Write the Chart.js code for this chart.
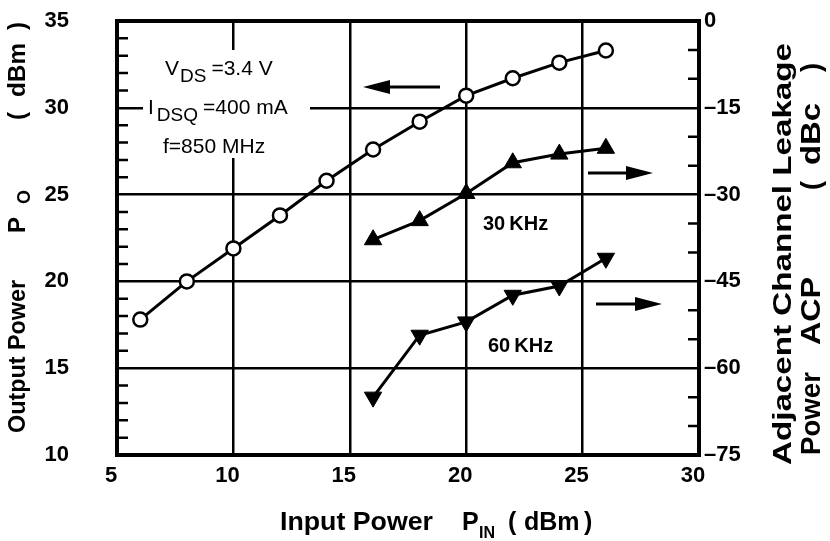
<!DOCTYPE html>
<html>
<head>
<title>Pout / ACP vs Pin</title>
<script src="https://cdn.jsdelivr.net/npm/chart.js@4.4.0/dist/chart.umd.min.js"></script>
<style>
  body { margin: 0; background: #fff; }
  #wrap { width: 830px; height: 541px; }
</style>
</head>
<body>
<div id="wrap"><canvas id="myChart"></canvas></div>

<script>
// input power, dBm
var pin = [6, 8, 10, 12, 14, 16, 18, 20, 22, 24, 26];
// output power, dBm
var pout = [17.8, 20.0, 21.9, 23.8, 25.8, 27.6, 29.2, 30.7, 31.7, 32.6, 33.3];
// ACP points only from 16 dBm
var pinAcp = [16, 18, 20, 22, 24, 26];
var acp30 = [-37.8, -34.5, -29.8, -24.5, -23.0, -22.0];
var acp60 = [-65.0, -54.3, -52.0, -47.4, -45.8, -41.0];

var xRange = [5, 30];
var poutRange = [10, 35];
var acpRange = [-75, 0];

var FONT = '"Liberation Sans", Arial, sans-serif';

function pts(xs, ys) {
  return xs.map(function (x, i) { return { x: x, y: ys[i] }; });
}

function put(ctx, s, x, y, size, bold, len) {
  ctx.font = (bold ? 'bold ' : '') + size + 'px ' + FONT;
  var w = ctx.measureText(s).width;
  if (len) {
    ctx.save();
    ctx.translate(x, y);
    ctx.scale(len / w, 1);
    ctx.fillText(s, 0, 0);
    ctx.restore();
    return x + len;
  }
  ctx.fillText(s, x, y);
  return x + w;
}

// text rotated to read bottom-to-top, x = baseline, y = start
function putUp(ctx, s, x, y, size, bold, len) {
  ctx.save();
  ctx.translate(x, y);
  ctx.rotate(-Math.PI / 2);
  ctx.font = (bold ? 'bold ' : '') + size + 'px ' + FONT;
  var w = ctx.measureText(s).width;
  if (len) ctx.scale(len / w, 1);
  ctx.fillText(s, 0, 0);
  ctx.restore();
}

function arrow(ctx, x1, x2, y) {
  var dir = x2 > x1 ? 1 : -1;
  var head = 27;
  ctx.lineWidth = 3;
  ctx.beginPath();
  ctx.moveTo(x1, y);
  ctx.lineTo(x2 - dir * head + dir * 2, y);
  ctx.stroke();
  ctx.beginPath();
  ctx.moveTo(x2, y);
  ctx.lineTo(x2 - dir * head, y - 7);
  ctx.lineTo(x2 - dir * head, y + 7);
  ctx.closePath();
  ctx.fill();
}

function noPad(s) {
  s.paddingTop = 0; s.paddingBottom = 0;
  s.paddingLeft = 0; s.paddingRight = 0;
}

var extras = {
  id: 'extras',
  beforeDatasetsDraw: function (chart) {
    var ctx = chart.ctx;
    ctx.save();
    // white box behind the bias conditions
    ctx.fillStyle = '#fff';
    ctx.fillRect(143, 50, 167, 108);
    ctx.fillStyle = '#000';
    ctx.textAlign = 'left';
    ctx.textBaseline = 'alphabetic';
    var x = put(ctx, 'V', 165, 75, 21, false);
    x = put(ctx, 'DS', x + 1, 82, 19, false);
    put(ctx, '=3.4 V', x + 5, 75, 21, false);
    x = put(ctx, 'I', 148, 114, 21, false);
    x = put(ctx, 'DSQ', x + 3, 121, 19, false);
    put(ctx, '=400 mA', x + 5, 114, 21, false);
    put(ctx, 'f=850 MHz', 163, 153, 21, false);

    put(ctx, '30\u2009KHz', 483, 230, 20, true);
    put(ctx, '60\u2009KHz', 488, 352, 20, true);
    ctx.restore();
  },
  afterDraw: function (chart) {
    var ctx = chart.ctx, a = chart.chartArea;
    var y = chart.scales.y, y2 = chart.scales.y2;
    ctx.save();
    ctx.strokeStyle = '#000';
    ctx.fillStyle = '#000';

    // minor ticks, inside the frame
    ctx.lineWidth = 2.5;
    ctx.beginPath();
    for (var v = poutRange[0]; v <= poutRange[1]; v++) {
      if (v % 5 === 0) continue;
      var py = y.getPixelForValue(v);
      ctx.moveTo(a.left, py);
      ctx.lineTo(a.left + 11, py);
    }
    for (var w = acpRange[0]; w <= acpRange[1]; w += 5) {
      if (w % 15 === 0) continue;
      var qy = y2.getPixelForValue(w);
      ctx.moveTo(a.right, qy);
      ctx.lineTo(a.right - 11, qy);
    }
    ctx.stroke();

    // frame
    ctx.lineWidth = 4;
    ctx.strokeRect(a.left, a.top, a.right - a.left, a.bottom - a.top);

    // arrows pointing at the axis each curve belongs to
    arrow(ctx, 440, 363, 87);
    arrow(ctx, 588, 653, 173);
    arrow(ctx, 596, 662, 304);

    // axis titles
    ctx.textAlign = 'left';
    ctx.textBaseline = 'alphabetic';
    putUp(ctx, 'Output Power', 25, 433, 24, true, 153);
    putUp(ctx, 'P', 25, 233, 24, true);
    putUp(ctx, 'O', 30, 204, 18, true);
    putUp(ctx, '(', 25, 120, 24, true);
    putUp(ctx, 'dBm', 25, 97, 24, true, 54);
    putUp(ctx, ')', 25, 30, 24, true);

    putUp(ctx, 'Adjacent Channel Leakage', 791, 465, 26, true, 422);
    putUp(ctx, 'Power', 820, 455, 27, true, 83);
    putUp(ctx, 'ACP', 820, 345, 27, true, 68);
    putUp(ctx, '(', 820, 190, 27, true);
    putUp(ctx, 'dBc', 820, 165, 27, true, 62);
    putUp(ctx, ')', 820, 72, 27, true);

    put(ctx, 'Input Power', 280, 530, 25, true, 153);
    put(ctx, 'P', 462, 530, 25, true);
    put(ctx, 'IN', 479, 538, 16, true);
    put(ctx, '(', 508, 530, 25, true);
    put(ctx, 'dBm', 524, 530, 25, true);
    put(ctx, ')', 584, 530, 25, true);
    ctx.restore();
  }
};

var ctx = document.getElementById('myChart').getContext('2d');
var myChart = new Chart(ctx, {
  type: 'line',
  data: {
    datasets: [{
      label: 'Pout',
      data: pts(pin, pout),
      yAxisID: 'y',
      borderColor: '#000',
      borderWidth: 3,
      pointStyle: 'circle',
      pointRadius: 7,
      pointBorderWidth: 2.5,
      pointBackgroundColor: '#fff',
      pointBorderColor: '#000'
    }, {
      label: 'ACP 30 KHz',
      data: pts(pinAcp, acp30),
      yAxisID: 'y2',
      borderColor: '#000',
      borderWidth: 3,
      pointStyle: 'triangle',
      pointRadius: 10,
      pointBorderWidth: 1,
      pointBackgroundColor: '#000',
      pointBorderColor: '#000'
    }, {
      label: 'ACP 60 KHz',
      data: pts(pinAcp, acp60),
      yAxisID: 'y2',
      borderColor: '#000',
      borderWidth: 3,
      pointStyle: 'triangle',
      rotation: 180,
      pointRadius: 10,
      pointBorderWidth: 1,
      pointBackgroundColor: '#000',
      pointBorderColor: '#000'
    }]
  },
  options: {
    responsive: true,
    maintainAspectRatio: false,
    animation: false,
    devicePixelRatio: 1,
    layout: { padding: { top: 21, left: 0, right: 0, bottom: 0 } },
    plugins: { legend: { display: false }, tooltip: { enabled: false } },
    scales: {
      x: {
        type: 'linear',
        min: xRange[0],
        max: xRange[1],
        afterFit: function (s) { s.height = 86; noPad(s); },
        ticks: {
          stepSize: 5,
          padding: 8,
          labelOffset: -6,
          color: '#000',
          font: { family: FONT, size: 22, weight: 'bold' }
        },
        grid: { color: '#000', lineWidth: 2.5, drawTicks: false },
        border: { display: false }
      },
      y: {
        position: 'left',
        min: poutRange[0],
        max: poutRange[1],
        afterFit: function (s) { s.width = 117; noPad(s); },
        ticks: {
          stepSize: 5,
          padding: 48,
          color: '#000',
          font: { family: FONT, size: 22, weight: 'bold' }
        },
        grid: { color: '#000', lineWidth: 2.5, drawTicks: false },
        border: { display: false }
      },
      y2: {
        position: 'right',
        min: acpRange[0],
        max: acpRange[1],
        afterFit: function (s) { s.width = 131; noPad(s); },
        ticks: {
          stepSize: 15,
          padding: 5,
          color: '#000',
          font: { family: FONT, size: 22, weight: 'bold' },
          callback: function (v) { return v === 0 ? '0' : '\u2013' + Math.abs(v); }
        },
        grid: { display: false, drawTicks: false },
        border: { display: false }
      }
    }
  },
  plugins: [extras]
});
</script>
</body>
</html>
